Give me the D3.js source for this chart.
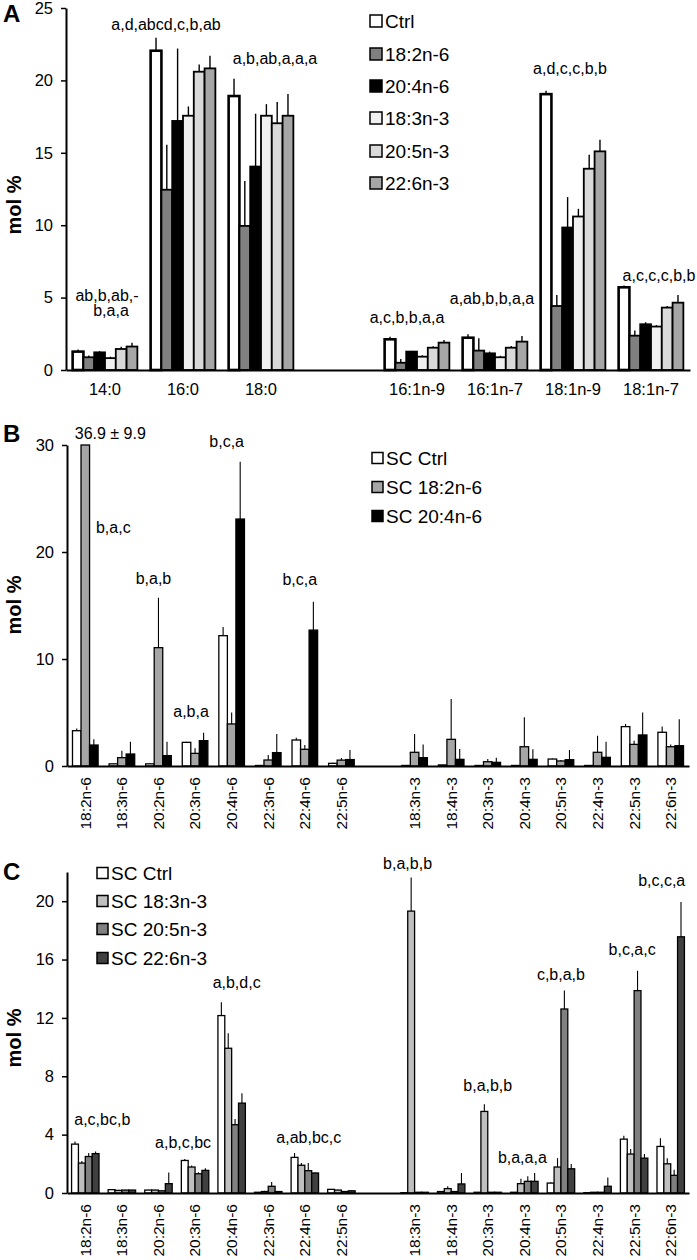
<!DOCTYPE html>
<html>
<head>
<meta charset="utf-8">
<script src="https://cdn.jsdelivr.net/npm/d3@7"></script>
<style>
  html, body { margin: 0; padding: 0; background: #fff; }
  svg { display: block; font-family: "Liberation Sans", Arial, sans-serif; }
</style>
</head>
<body>
<svg id="chart" width="697" height="1260"></svg>
<script>
// ================= DATA =================
// Panel A
const aCategories = ["14:0", "16:0", "18:0", "16:1n-9", "16:1n-7", "18:1n-9", "18:1n-7"];
const aSeries = ["Ctrl", "18:2n-6", "20:4n-6", "18:3n-3", "20:5n-3", "22:6n-3"];
const aCtrl    = [1.27, 22.05, 18.92, 2.12, 2.23, 19.05, 5.71];
const aCtrlErr = [0.15, 0.90, 1.20, 0.18, 0.24, 0.24, 0.12];
const a182     = [0.88, 12.45, 9.95, 0.50, 1.34, 4.42, 2.37];
const a182Err  = [0.12, 3.10, 3.10, 0.26, 0.85, 0.76, 0.35];
const a204     = [1.22, 17.20, 14.05, 1.27, 1.15, 9.84, 3.16];
const a204Err  = [0.08, 5.00, 3.65, 0.05, 0.12, 2.10, 0.14];
const a183     = [0.82, 17.56, 17.56, 0.92, 0.88, 10.60, 3.00];
const a183Err  = [0.10, 0.64, 0.80, 0.10, 0.10, 0.53, 0.10];
const a205     = [1.45, 20.60, 17.04, 1.54, 1.54, 13.90, 4.31];
const a205Err  = [0.15, 0.50, 1.46, 0.10, 0.12, 0.96, 0.11];
const a226     = [1.62, 20.83, 17.56, 1.89, 1.96, 15.10, 4.65];
const a226Err  = [0.27, 0.87, 1.50, 0.18, 0.39, 0.80, 0.53];
const aTicks = [0, 5, 10, 15, 20, 25];
const aNotes = ["ab,b,ab,-", "b,a,a", "a,d,abcd,c,b,ab", "a,b,ab,a,a,a", "a,c,b,b,a,a", "a,ab,b,b,a,a", "a,d,c,c,b,b", "a,c,c,c,b,b"];
const aNoteCats = ["14:0", "14:0", "16:0", "18:0", "16:1n-9", "16:1n-7", "18:1n-9", "18:1n-7"];

// Panels B and C share categories
const bcCategories = ["18:2n-6", "18:3n-6", "20:2n-6", "20:3n-6", "20:4n-6", "22:3n-6", "22:4n-6", "22:5n-6",
                      "18:3n-3", "18:4n-3", "20:3n-3", "20:4n-3", "20:5n-3", "22:4n-3", "22:5n-3", "22:6n-3"];

// Panel B
const bSeries = ["SC Ctrl", "SC 18:2n-6", "SC 20:4n-6"];
const bCtrl    = [3.30, 0.20, 0.20, 2.21, 12.18, 0.05, 2.43, 0.25, 0.05, 0.10, 0.05, 0.05, 0.65, 0.05, 3.68, 3.15];
const bCtrlErr = [0.20, 0.05, 0.05, 0.05, 0.82, 0.02, 0.22, 0.05, 0.00, 0.00, 0.00, 0.00, 0.05, 0.00, 0.25, 0.53];
const b182     = [36.9, 0.78, 11.06, 1.18, 3.93, 0.56, 1.56, 0.55, 1.28, 2.49, 0.40, 1.80, 0.47, 1.28, 2.02, 1.80];
const b182Err  = [9.9, 0.65, 4.67, 0.47, 1.07, 0.47, 0.40, 0.20, 1.72, 3.77, 0.25, 2.75, 0.10, 1.55, 0.35, 0.22];
const b204     = [1.96, 1.12, 0.97, 2.37, 23.08, 1.25, 12.70, 0.60, 0.78, 0.62, 0.34, 0.62, 0.59, 0.81, 2.90, 1.90];
const b204Err  = [0.54, 1.15, 1.30, 0.73, 5.36, 1.75, 2.66, 0.90, 1.22, 0.98, 0.44, 0.94, 0.91, 1.46, 2.10, 2.46];
const bTicks = [0, 10, 20, 30];
const bNotes = ["36.9 ± 9.9", "b,a,c", "b,a,b", "a,b,a", "b,c,a", "b,c,a"];
const bNoteCats = ["18:2n-6", "18:2n-6", "20:2n-6", "20:3n-6", "20:4n-6", "22:4n-6"];

// Panel C
const cSeries = ["SC Ctrl", "SC 18:3n-3", "SC 20:5n-3", "SC 22:6n-3"];
const cCtrl    = [3.35, 0.23, 0.20, 2.23, 12.16, 0.05, 2.44, 0.25, 0.02, 0.10, 0.05, 0.05, 0.68, 0.02, 3.69, 3.19];
const cCtrlErr = [0.18, 0.03, 0.03, 0.10, 0.91, 0.02, 0.30, 0.03, 0.00, 0.03, 0.00, 0.00, 0.05, 0.00, 0.23, 0.57];
const c183     = [2.05, 0.18, 0.20, 1.78, 9.92, 0.10, 1.90, 0.20, 19.32, 0.30, 5.59, 0.64, 1.78, 0.05, 2.67, 2.00];
const c183Err  = [0.15, 0.03, 0.03, 0.10, 1.03, 0.05, 0.15, 0.03, 2.30, 0.16, 0.50, 0.34, 0.61, 0.02, 0.34, 0.39];
const c205     = [2.50, 0.20, 0.15, 1.32, 4.68, 0.46, 1.53, 0.10, 0.05, 0.10, 0.05, 0.80, 12.61, 0.05, 13.87, 1.21];
const c205Err  = [0.24, 0.03, 0.03, 0.10, 0.40, 0.29, 0.52, 0.02, 0.00, 0.03, 0.00, 0.34, 1.26, 0.00, 1.36, 0.39];
const c226     = [2.70, 0.20, 0.64, 1.55, 6.16, 0.10, 1.37, 0.15, 0.05, 0.62, 0.05, 0.80, 1.66, 0.46, 2.39, 17.56];
const c226Err  = [0.15, 0.03, 0.77, 0.15, 0.68, 0.02, 0.05, 0.03, 0.00, 0.75, 0.00, 0.57, 0.32, 0.61, 0.28, 2.39];
const cTicks = [0, 4, 8, 12, 16, 20];
const cNotes = ["a,c,bc,b", "a,b,c,bc", "a,b,d,c", "a,ab,bc,c", "b,a,b,b", "b,a,b,b", "b,a,a,a", "c,b,a,b", "b,c,a,c", "b,c,c,a"];
const cNoteCats = ["18:2n-6", "20:3n-6", "20:4n-6", "22:4n-6", "18:3n-3", "20:3n-3", "20:4n-3", "20:5n-3", "22:5n-3", "22:6n-3"];

// ================= LAYOUT =================
const FONT = '"Liberation Sans", Arial, sans-serif';
const svg = d3.select("#chart");
svg.append("rect").attr("width", 697).attr("height", 1260).attr("fill", "#fff");

const panels = [
  {
    letter: "A", letterY: 22, ylabelY: 205,
    cats: aCategories, gapAfter: 2, gapSlots: 1,
    series: aSeries,
    values: [aCtrl, a182, a204, a183, a205, a226],
    errs: [aCtrlErr, a182Err, a204Err, a183Err, a205Err, a226Err],
    colors: ["#ffffff", "#808080", "#000000", "#f0f0f0", "#d9d9d9", "#a6a6a6"],
    strokeW: [2.6, 1.8, 1.8, 1.8, 1.8, 1.8], errW: 1.4,
    x0: 66, x1: 690, yTop: 8, yBottom: 370, yMax: 25, ticks: aTicks,
    padIn: 0.17, rotated: false, xFont: 16.5,
    notes: aNotes, noteCats: aNoteCats,
    noteDx: [2, 6, -17, 14, -10, -3, -3, 8],
    noteV: [5.18, 4.14, 23.9, 21.5, 3.66, 4.97, 20.86, 6.56],
    legX: 370, legY: [21, 54, 86, 118, 151, 183], legSize: 12
  },
  {
    letter: "B", letterY: 442, ylabelY: 605,
    cats: bcCategories, gapAfter: 7, gapSlots: 1,
    series: bSeries,
    values: [bCtrl, b182, b204],
    errs: [bCtrlErr, b182Err, b204Err],
    colors: ["#ffffff", "#a6a6a6", "#000000"],
    strokeW: [1.3, 1.3, 1.3], errW: 1.1,
    x0: 67, x1: 689, yTop: 445, yBottom: 766, yMax: 30, ticks: bTicks,
    padIn: 0.3, rotated: true, xFont: 15.5,
    notes: bNotes, noteCats: bNoteCats,
    noteDx: [25, 28, -5, -4, -5, -5],
    noteV: [31.1, 22.3, 17.5, 5.1, 30.3, 17.4],
    legX: 372, legY: [458, 487, 516], legSize: 11
  },
  {
    letter: "C", letterY: 880, ylabelY: 1038,
    cats: bcCategories, gapAfter: 7, gapSlots: 1,
    series: cSeries,
    values: [cCtrl, c183, c205, c226],
    errs: [cCtrlErr, c183Err, c205Err, c226Err],
    colors: ["#ffffff", "#bfbfbf", "#808080", "#404040"],
    strokeW: [1.3, 1.3, 1.3, 1.3], errW: 1.1,
    x0: 67, x1: 689, yTop: 872, yBottom: 1193, yMax: 22, ticks: cTicks,
    padIn: 0.25, rotated: true, xFont: 15.5,
    notes: cNotes, noteCats: cNoteCats,
    noteDx: [17, -12, 5, 4, -7, 0, -2, 0, -2, -9],
    noteV: [5.07, 3.5, 14.4, 3.84, 22.6, 7.4, 2.47, 15.0, 16.7, 21.4],
    legX: 97, legY: [873, 901, 929, 958], legSize: 11
  }
];

panels.forEach(p => {
  const g = svg.append("g");
  const slots = [];
  p.cats.forEach((c, i) => {
    slots.push(c);
    if (i === p.gapAfter) for (let k = 0; k < p.gapSlots; k++) slots.push("__gap" + k);
  });
  const x = d3.scaleBand().domain(slots).range([p.x0, p.x1])
    .paddingInner(p.padIn).paddingOuter(p.padIn / 2);
  const xs = d3.scaleBand().domain(p.series).range([0, x.bandwidth()]);
  const y = d3.scaleLinear().domain([0, p.yMax]).range([p.yBottom, p.yTop]).clamp(true);
  const yFree = y.copy().clamp(false);

  // bars + error bars
  p.series.forEach((s, si) => {
    const rows = p.cats.map((c, ci) => ({ c, v: p.values[si][ci], e: p.errs[si][ci] }));
    const sg = g.append("g");
    sg.selectAll("rect").data(rows).join("rect")
      .attr("x", d => x(d.c) + xs(s))
      .attr("y", d => y(d.v))
      .attr("width", xs.bandwidth())
      .attr("height", d => y(0) - y(d.v))
      .attr("fill", p.colors[si])
      .attr("stroke", "#000")
      .attr("stroke-width", p.strokeW[si]);
    sg.selectAll("line").data(rows.filter(d => d.v < p.yMax && d.e > 0)).join("line")
      .attr("x1", d => x(d.c) + xs(s) + xs.bandwidth() / 2)
      .attr("x2", d => x(d.c) + xs(s) + xs.bandwidth() / 2)
      .attr("y1", d => y(d.v))
      .attr("y2", d => y(d.v + d.e))
      .attr("stroke", "#000")
      .attr("stroke-width", p.errW);
  });

  // x axis
  const xAxis = d3.axisBottom(x).tickSize(0).tickSizeOuter(0).tickValues(p.cats);
  const xg = g.append("g").attr("transform", `translate(0,${p.yBottom})`).call(xAxis);
  xg.select(".domain").attr("stroke", "#000").attr("stroke-width", 2);
  xg.selectAll("text").attr("font-family", FONT).attr("font-size", p.xFont).attr("fill", "#000");
  if (p.rotated) {
    xg.selectAll("text")
      .attr("transform", "rotate(-90)")
      .attr("text-anchor", "end")
      .attr("x", -11).attr("y", 0).attr("dy", "0.35em");
  } else {
    xg.selectAll("text").attr("y", 13).attr("dy", "0.71em");
  }

  // y axis
  const yAxis = d3.axisLeft(y).tickValues(p.ticks).tickSize(5).tickSizeOuter(0).tickPadding(8);
  const yg = g.append("g").attr("transform", `translate(${p.x0},0)`).call(yAxis);
  yg.select(".domain").attr("stroke", "#000").attr("stroke-width", 2);
  yg.selectAll(".tick line").attr("stroke", "#000").attr("stroke-width", 1.5);
  yg.selectAll("text").attr("font-family", FONT).attr("font-size", 16.5).attr("fill", "#000");

  // panel letter
  g.append("text").attr("x", 3).attr("y", p.letterY).text(p.letter)
    .attr("font-family", FONT).attr("font-weight", "bold").attr("font-size", 24);
  // y label
  g.append("text").attr("transform", `translate(21,${p.ylabelY}) rotate(-90)`)
    .attr("text-anchor", "middle").text("mol %")
    .attr("font-family", FONT).attr("font-weight", "bold").attr("font-size", 20);

  // annotations (unclamped so they can sit above the axis top)
  g.selectAll("text.note").data(p.notes).join("text").attr("class", "note")
    .attr("x", (d, i) => x(p.noteCats[i]) + x.bandwidth() / 2 + p.noteDx[i])
    .attr("y", (d, i) => yFree(p.noteV[i]))
    .attr("dy", "0.35em")
    .attr("text-anchor", "middle")
    .attr("font-family", FONT).attr("font-size", 16)
    .text(d => d);

  // legend
  const lg = g.append("g");
  p.series.forEach((s, si) => {
    lg.append("rect")
      .attr("x", p.legX).attr("y", p.legY[si] - p.legSize / 2)
      .attr("width", p.legSize).attr("height", p.legSize)
      .attr("fill", p.colors[si]).attr("stroke", "#000").attr("stroke-width", 1.5);
    lg.append("text")
      .attr("x", p.legX + p.legSize + 3).attr("y", p.legY[si]).attr("dy", "0.36em")
      .attr("font-family", FONT).attr("font-size", 19)
      .text(s);
  });
});
</script>
</body>
</html>
